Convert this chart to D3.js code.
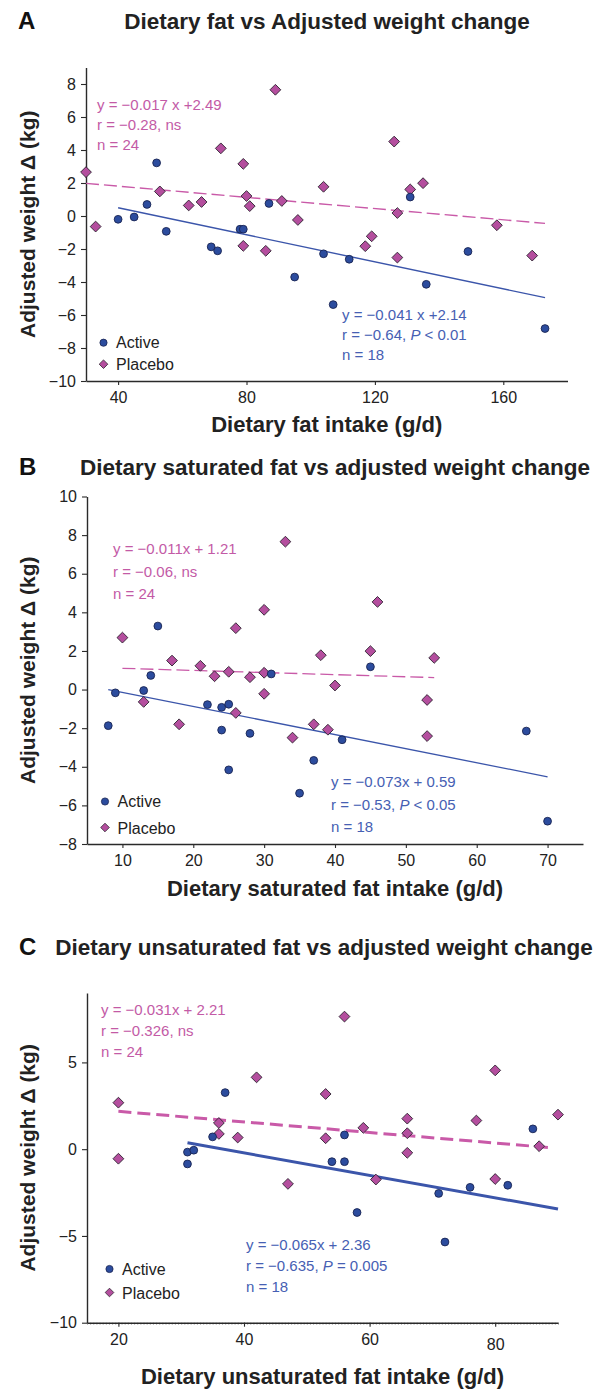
<!DOCTYPE html>
<html>
<head>
<meta charset="utf-8">
<script src="https://cdn.jsdelivr.net/npm/d3@7/dist/d3.min.js"></script>
<style>
  html, body { margin: 0; padding: 0; background: #fff; }
  svg { display: block; font-family: "Liberation Sans", Arial, Helvetica, sans-serif; }
</style>
</head>
<body>
<svg id="chart" width="605" height="1389"></svg>
<script>
// ---------------- DATA ----------------
// Panel A: dietary fat intake (g/d) vs adjusted weight change (kg)
const aActiveX  = [40, 45, 49, 52, 55, 69, 71, 78, 79, 87, 95, 104, 107, 112, 131, 136, 149, 173];
const aActiveY  = [-0.2, -0.06, 0.7, 3.22, -0.93, -1.87, -2.11, -0.8, -0.8, 0.76, -3.7, -2.29, -5.37, -2.62, 1.15, -4.14, -2.15, -6.82];
const aPlaceboX = [30, 33, 53, 62, 66, 72, 79, 79, 80, 81, 86, 89, 91, 96, 104, 117, 119, 126, 127, 127, 131, 135, 158, 169];
const aPlaceboY = [2.66, -0.64, 1.49, 0.64, 0.85, 4.1, 3.16, -1.81, 1.21, 0.6, -2.11, 7.65, 0.91, -0.24, 1.77, -1.83, -1.23, 4.51, 0.18, -2.52, 1.61, 1.99, -0.56, -2.4];
const aActiveFitX  = [40, 173];
const aActiveFitY  = [0.5, -4.95];
const aPlaceboFitX = [30, 173];
const aPlaceboFitY = [1.98, -0.45];
const aXTicks = [40, 80, 120, 160];
const aYTicks = [-10, -8, -6, -4, -2, 0, 2, 4, 6, 8];

// Panel B: dietary saturated fat intake (g/d)
const bActiveX  = [8, 9, 13, 14, 15, 22, 24, 25, 24, 25, 28, 31, 35, 37, 41, 45, 67, 70];
const bActiveY  = [-1.87, -0.17, -0.05, 0.73, 3.29, -0.78, -0.92, -0.76, -2.1, -4.16, -2.27, 0.81, -5.37, -3.67, -2.6, 1.18, -2.15, -6.82];
const bPlaceboX = [10, 13, 17, 18, 21, 23, 25, 26, 26, 28, 30, 30, 30, 33, 34, 37, 38, 39, 40, 45, 46, 53, 53, 54];
const bPlaceboY = [2.69, -0.64, 1.5, -1.8, 1.23, 0.69, 0.92, 3.18, -1.21, 0.64, 4.13, 0.87, -0.22, 7.66, -2.49, -1.8, 1.78, -2.08, 0.21, 1.99, 4.54, -0.54, -2.41, 1.64];
const bActiveFitX  = [8, 70];
const bActiveFitY  = [0.0, -4.52];
const bPlaceboFitX = [10, 54];
const bPlaceboFitY = [1.1, 0.62];
const bXTicks = [10, 20, 30, 40, 50, 60, 70];
const bYTicks = [-8, -6, -4, -2, 0, 2, 4, 6, 8, 10];

// Panel C: dietary unsaturated fat intake (g/d)
const cActiveX  = [31, 31, 32, 35, 37, 54, 56, 56, 58, 71, 72, 76, 82, 86];
const cActiveY  = [-0.17, -0.85, -0.06, 0.71, 3.26, -0.72, -0.72, 0.82, -3.65, -2.55, -5.35, -2.2, -2.08, 1.17];
const cPlaceboX = [20, 20, 36, 36, 39, 42, 47, 53, 53, 56, 59, 61, 66, 66, 66, 77, 80, 80, 87, 90];
const cPlaceboY = [2.68, -0.55, 1.51, 0.88, 0.67, 4.14, -2.0, 3.18, 0.63, 7.64, 1.23, -1.75, 1.76, 0.92, -0.21, 1.65, 4.54, -1.72, 0.17, 1.99];
const cActiveFitX  = [31, 90];
const cActiveFitY  = [0.37, -3.45];
const cPlaceboFitX = [20, 89];
const cPlaceboFitY = [2.18, 0.08];
const cXTicks = [20, 40, 60, 80];
const cYTicks = [-10, -5, 0, 5];

// ---------------- STYLE ----------------
const COL = {
  activeFill: "#2c4c9e", activeStroke: "#1a2552",
  placeboFill: "#b44e9e", placeboStroke: "#2d2330",
  activeLine: "#3b55aa", placeboLine: "#c95aa8",
  activeText: "#4660b3", placeboText: "#c35aa6",
  axis: "#2a2a2a", text: "#222"
};

const svg = d3.select("#chart");

function zip(xs, ys) { return xs.map((x, i) => ({ x: x, y: ys[i] })); }

function diamondPath(s) { return `M0,${-s}L${s},0L0,${s}L${-s},0Z`; }

function drawPanel(p) {
  const x = d3.scaleLinear().domain(p.xDomain).range(p.xRange);
  const y = d3.scaleLinear().domain(p.yDomain).range(p.yRange);
  const g = svg.append("g");

  // panel letter & title
  g.append("text").attr("x", p.letterX).attr("y", p.titleY)
    .attr("font-size", 24).attr("font-weight", "bold").attr("fill", "#111").text(p.letter);
  g.append("text").attr("x", p.titleX).attr("y", p.titleY).attr("text-anchor", "middle")
    .attr("font-size", 22.5).attr("font-weight", "bold").attr("fill", "#222").text(p.title);

  // axes
  const xAxis = d3.axisBottom(x).tickValues(p.xTicks).tickSize(4).tickSizeOuter(0).tickPadding(7);
  const yAxis = d3.axisLeft(y).tickValues(p.yTicks).tickSize(5).tickSizeOuter(0).tickPadding(5);

  if (p.minor) {
    g.append("g").attr("transform", `translate(0,${p.yRange[0]})`)
      .call(d3.axisBottom(x).tickValues(d3.range(p.xDomain[0], p.xDomain[1] + 0.01, 0.5)).tickSize(2).tickSizeOuter(0).tickFormat(""))
      .call(s => s.select(".domain").remove())
      .call(s => s.selectAll("line").attr("stroke", "#777").attr("stroke-width", 0.7));
  }

  const gx = g.append("g").attr("transform", `translate(0,${p.yRange[0]})`).call(xAxis);
  const gy = g.append("g").attr("transform", `translate(${p.xRange[0]},0)`).call(yAxis);
  [gx, gy].forEach(a => {
    a.select(".domain").attr("stroke", COL.axis).attr("stroke-width", 1.4);
    a.selectAll(".tick line").attr("stroke", COL.axis).attr("stroke-width", 1.1);
    a.selectAll(".tick text").attr("font-size", 16).attr("fill", COL.text)
      .attr("font-family", "'Liberation Sans', Arial, sans-serif");
  });
  if (p.lowTick !== undefined) {
    gx.selectAll(".tick").filter(d => d === p.lowTick).select("text").attr("dy", "1.0em");
  }

  // axis labels
  g.append("text").attr("x", (p.xRange[0] + p.xRange[1]) / 2).attr("y", p.xLabelY)
    .attr("text-anchor", "middle").attr("font-size", 22).attr("font-weight", "bold")
    .attr("fill", "#222").text(p.xLabel);
  const cy = (p.yRange[0] + p.yRange[1]) / 2;
  g.append("text").attr("transform", `translate(35,${cy}) rotate(-90)`)
    .attr("text-anchor", "middle").attr("font-size", 21).attr("font-weight", "bold")
    .attr("fill", "#222").text("Adjusted weight \u0394 (kg)");

  // fit lines
  const line = d3.line().x(d => x(d.x)).y(d => y(d.y));
  g.append("path").datum(zip(p.placeboFitX, p.placeboFitY)).attr("d", line)
    .attr("fill", "none").attr("stroke", COL.placeboLine).attr("stroke-width", p.lw)
    .attr("stroke-dasharray", p.dash);
  g.append("path").datum(zip(p.activeFitX, p.activeFitY)).attr("d", line)
    .attr("fill", "none").attr("stroke", COL.activeLine).attr("stroke-width", p.lw);

  // points
  g.append("g").selectAll("path").data(zip(p.placeboX, p.placeboY)).join("path")
    .attr("d", diamondPath(5.4))
    .attr("transform", d => `translate(${x(d.x)},${y(d.y)})`)
    .attr("fill", COL.placeboFill).attr("stroke", COL.placeboStroke).attr("stroke-width", 0.9);
  g.append("g").selectAll("circle").data(zip(p.activeX, p.activeY)).join("circle")
    .attr("cx", d => x(d.x)).attr("cy", d => y(d.y)).attr("r", 3.9)
    .attr("fill", COL.activeFill).attr("stroke", COL.activeStroke).attr("stroke-width", 0.9);

  // annotations
  const pt = g.append("text").attr("font-size", 15).attr("fill", COL.placeboText);
  p.placeboNote.forEach((t, i) => {
    pt.append("tspan").attr("x", p.pNoteX).attr("y", p.pNoteY + i * p.noteGap).text(t);
  });
  const at = g.append("text").attr("font-size", 15).attr("fill", COL.activeText);
  p.activeNote.forEach((t, i) => {
    const ts = at.append("tspan").attr("x", p.aNoteX).attr("y", p.aNoteY + i * p.noteGap);
    if (Array.isArray(t)) {
      ts.text(t[0]);
      at.append("tspan").attr("font-style", "italic").text(t[1]);
      at.append("tspan").text(t[2]);
    } else ts.text(t);
  });

  // legend
  g.append("circle").attr("cx", p.legX).attr("cy", p.legY).attr("r", 3.6)
    .attr("fill", COL.activeFill).attr("stroke", COL.activeStroke).attr("stroke-width", 0.8);
  g.append("text").attr("x", p.legX + 12.5).attr("y", p.legY + 5.5).attr("font-size", 16)
    .attr("fill", COL.text).text("Active");
  g.append("path").attr("d", diamondPath(4.3))
    .attr("transform", `translate(${p.legX},${p.legY + p.legGap})`)
    .attr("fill", COL.placeboFill).attr("stroke", COL.placeboStroke).attr("stroke-width", 0.8);
  g.append("text").attr("x", p.legX + 12.5).attr("y", p.legY + p.legGap + 6).attr("font-size", 16)
    .attr("fill", COL.text).text("Placebo");
}

drawPanel({
  letter: "A", letterX: 18, titleY: 29, titleX: 327,
  title: "Dietary fat vs Adjusted weight change",
  xDomain: [30, 180], xRange: [86, 567.5], yDomain: [-10, 9], yRange: [381, 67.5],
  xTicks: aXTicks, yTicks: aYTicks, xLabel: "Dietary fat intake (g/d)", xLabelY: 432,
  activeX: aActiveX, activeY: aActiveY, placeboX: aPlaceboX, placeboY: aPlaceboY,
  activeFitX: aActiveFitX, activeFitY: aActiveFitY, placeboFitX: aPlaceboFitX, placeboFitY: aPlaceboFitY,
  lw: 1.4, dash: "13,5",
  placeboNote: ["y = \u22120.017 x +2.49", "r = \u22120.28, ns", "n = 24"], pNoteX: 97, pNoteY: 110,
  activeNote: ["y = \u22120.041 x +2.14", ["r = \u22120.64, ", "P", " < 0.01"], "n = 18"], aNoteX: 342, aNoteY: 320,
  noteGap: 20,
  legX: 103.5, legY: 342.7, legGap: 21.5
});

drawPanel({
  letter: "B", letterX: 19, titleY: 475, titleX: 335,
  title: "Dietary saturated fat vs adjusted weight change",
  xDomain: [5, 75], xRange: [87, 583], yDomain: [-8, 10], yRange: [844, 496.5],
  xTicks: bXTicks, yTicks: bYTicks, xLabel: "Dietary saturated fat intake (g/d)", xLabelY: 896,
  activeX: bActiveX, activeY: bActiveY, placeboX: bPlaceboX, placeboY: bPlaceboY,
  activeFitX: bActiveFitX, activeFitY: bActiveFitY, placeboFitX: bPlaceboFitX, placeboFitY: bPlaceboFitY,
  lw: 1.3, dash: "13,5",
  placeboNote: ["y = \u22120.011x + 1.21", "r = \u22120.06, ns", "n = 24"], pNoteX: 113, pNoteY: 554,
  activeNote: ["y = \u22120.073x + 0.59", ["r = \u22120.53, ", "P", " < 0.05"], "n = 18"], aNoteX: 331, aNoteY: 787,
  noteGap: 22.5,
  legX: 105, legY: 801.5, legGap: 26
});

drawPanel({
  letter: "C", letterX: 19, titleY: 955, titleX: 324,
  title: "Dietary unsaturated fat vs adjusted weight change",
  xDomain: [15, 90], xRange: [87, 558], yDomain: [-10, 9], yRange: [1322.7, 993],
  xTicks: cXTicks, yTicks: cYTicks, xLabel: "Dietary unsaturated fat intake (g/d)", xLabelY: 1384,
  activeX: cActiveX, activeY: cActiveY, placeboX: cPlaceboX, placeboY: cPlaceboY,
  activeFitX: cActiveFitX, activeFitY: cActiveFitY, placeboFitX: cPlaceboFitX, placeboFitY: cPlaceboFitY,
  lw: 3, dash: "13,6", minor: true, lowTick: 80,
  placeboNote: ["y = \u22120.031x + 2.21", "r = \u22120.326, ns", "n = 24"], pNoteX: 101, pNoteY: 1015,
  activeNote: ["y = \u22120.065x + 2.36", ["r = \u22120.635, ", "P", " = 0.005"], "n = 18"], aNoteX: 246, aNoteY: 1250,
  noteGap: 21,
  legX: 109.5, legY: 1269, legGap: 23.5
});
</script>
</body>
</html>
